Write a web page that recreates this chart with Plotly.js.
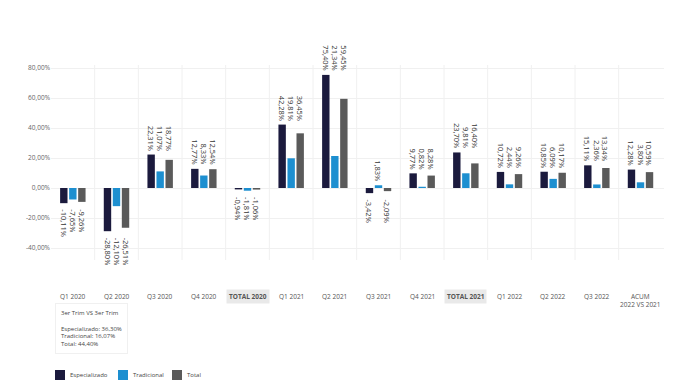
<!DOCTYPE html>
<html><head><meta charset="utf-8">
<script src="https://cdn.plot.ly/plotly-3.0.1.min.js"></script>
<style>html,body{margin:0;padding:0;background:#fff}#chart{width:678px;height:389px}</style>
</head><body><div id="chart"></div>
<script>
const categories = ['Q1 2020','Q2 2020','Q3 2020','Q4 2020','TOTAL 2020','Q1 2021','Q2 2021','Q3 2021','Q4 2021','TOTAL 2021','Q1 2022','Q2 2022','Q3 2022','ACUM<br>2022 VS 2021'];
const especializado = [-10.11,-28.80,22.31,12.77,-0.94,42.28,75.40,-3.42,9.77,23.70,10.72,10.85,15.11,12.28];
const tradicional  = [-7.65,-12.10,11.07,8.33,-1.81,19.81,21.34,1.83,0.82,9.81,2.44,6.09,2.36,3.80];
const total        = [-9.26,-26.51,18.77,12.54,-1.06,36.45,59.45,-2.09,8.28,16.40,9.26,10.17,13.34,10.59];
const seriesNames = ['Especializado','Tradicional','Total'];
const seriesColors = ['#1b1a3d','#1d8fd0','#5a5a5a'];
const yTicks = [-40,-20,0,20,40,60,80];
const noteLines = ['3er Trim VS 3er Trim','','Especializado: 36,30%','Tradicional: 16,07%','Total: 44,40%'];

const LBL = 7.5;
const fmt = v => v.toFixed(2).replace('.', ',') + '%';
const charW = ch => (ch === ',' ? 0.27 : ch === '-' ? 0.33 : ch === '%' ? 0.84 : 0.57) * LBL;
const textLen = s => s.split('').reduce((a,ch)=>a+charW(ch),0);
const series = [especializado, tradicional, total];
const traces = series.map((vals,i)=>({
  type:'bar', name:seriesNames[i], x:categories, y:vals,
  marker:{color:seriesColors[i]}, hoverinfo:'skip', showlegend:false
}));

const annotations = [];
const shapes = [];
const offsets = [-9,0,9];
categories.forEach((c,ci)=>{
  const vals = series.map(s=>s[ci]);
  const maxV = Math.max(...vals, 0);
  const minV = Math.min(...vals, 0);
  vals.forEach((v,si)=>{
    const pos = v >= 0;
    const t = fmt(v);
    const half = textLen(t)/2;
    annotations.push({
      x:c, y: pos ? maxV : minV, xref:'x', yref:'y', xshift:offsets[si],
      yshift: pos ? (4 + half) : -(6 + half),
      text: t, showarrow:false, textangle:90,
      yanchor:'middle', xanchor:'center',
      font:{family:'Open Sans, sans-serif', size:LBL, color:'#333'}
    });
  });
  const isTotal = c.startsWith('TOTAL');
  annotations.push({
    x:c, xref:'x', yref:'paper', y:-0.035, yanchor:'top', showarrow:false,
    text: isTotal ? '<b>'+c+'</b>' : c,
    bgcolor: isTotal ? '#e9e9e9' : 'rgba(0,0,0,0)', borderpad:2,
    font:{family:'Open Sans, sans-serif', size:6.5, color:'#555'}
  });
  if (ci < categories.length-1) {
    shapes.push({type:'line', xref:'x', yref:'y', x0:ci+0.5, x1:ci+0.5, y0:-48, y1:82,
      line:{color:'#f0f0f0', width:1}, layer:'below'});
  }
});
annotations.push({
  xref:'paper', yref:'paper', x:0.006, y:-0.1, xanchor:'left', yanchor:'top', align:'left',
  showarrow:false, text: noteLines.join('<br>'),
  bordercolor:'#f0f0f0', borderwidth:1, borderpad:5,
  font:{family:'Open Sans, sans-serif', size:6, color:'#444'}
});

// legend drawn with shapes + labels
const legX = [55,118,172];
const px = x => (x-51)/613;
const py = y => (281-y)/216;
seriesNames.forEach((n,i)=>{
  shapes.push({type:'rect', xref:'paper', yref:'paper', x0:px(legX[i]), x1:px(legX[i]+10),
    y0:py(370), y1:py(380), fillcolor:seriesColors[i], line:{width:0}});
  annotations.push({xref:'paper', yref:'paper', x:px(legX[i]+13), y:py(375), xanchor:'left', yanchor:'middle',
    showarrow:false, text:n, font:{family:'Open Sans, sans-serif', size:6, color:'#444'}});
});

const layout = {
  width:678, height:389,
  margin:{l:51, r:14, t:65, b:108},
  paper_bgcolor:'#fff', plot_bgcolor:'#fff',
  barmode:'group', bargap:0.38, bargroupgap:0.18,
  showlegend:false,
  xaxis:{showticklabels:false, showgrid:false, zeroline:false, showline:false, ticks:''},
  yaxis:{range:[-62,82], tickvals:yTicks, ticktext:yTicks.map(v=>v.toFixed(2).replace('.',',')+'%'),
    showgrid:true, gridcolor:'#f0f0f0', zeroline:false, showline:false,
    tickfont:{family:'Open Sans, sans-serif', size:6.5, color:'#666'}},
  annotations, shapes
};
Plotly.newPlot('chart', traces, layout, {displayModeBar:false, staticPlot:true});
</script></body></html>
